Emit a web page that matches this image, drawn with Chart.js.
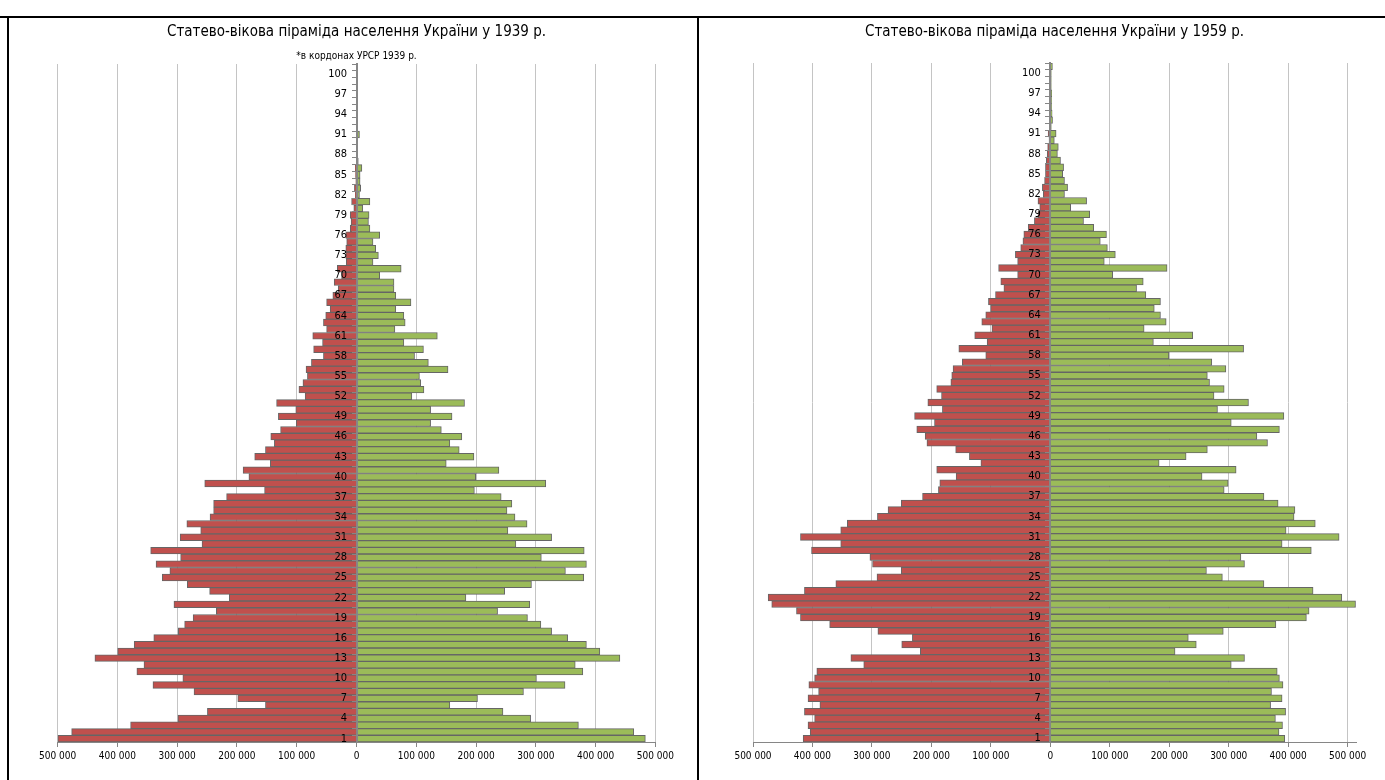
<!DOCTYPE html>
<html>
<head>
<meta charset="utf-8">
<script src="https://cdn.jsdelivr.net/npm/chart.js@4.4.0/dist/chart.umd.min.js"></script>
<style>
  body { margin: 0; background: #fff; width: 1385px; height: 780px; overflow: hidden; position: relative; }
  .line { position: absolute; background: #000; }
  canvas { position: absolute; top: 18px; }
</style>
</head>
<body>
<div class="line" style="left:0;top:16px;width:1385px;height:2px"></div>
<div class="line" style="left:7px;top:16px;width:2px;height:764px"></div>
<div class="line" style="left:697px;top:16px;width:2px;height:764px"></div>
<canvas id="chart1939" width="688" height="762" style="left:9px"></canvas>
<canvas id="chart1959" width="686" height="762" style="left:699px"></canvas>
<script>
// ages 1..101, bottom to top
const ages = Array.from({ length: 101 }, (_, i) => String(i + 1));
const xTicks = [-500000, -400000, -300000, -200000, -100000, 0, 100000, 200000, 300000, 400000, 500000];

const men1939 = [
  499600, 476500, 377900, 298700, 249400, 152300, 198600, 271800, 340500, 290500,
  367400, 355500, 437600, 399500, 371900, 339100, 298000, 287500, 273300, 234500,
  305400, 212800, 245700, 283000, 324900, 312200, 335300, 294200, 344300, 258400,
  295000, 260600, 283800, 245000, 239000, 239000, 217300, 153800, 253900, 180000,
  189700, 144100, 170300, 152300, 137400, 143400, 127000, 100800, 130700, 101600,
  133700, 85900, 96300, 89600, 82100, 84400, 75400, 55300, 71700, 56800,
  73200, 50000, 55300, 51500, 44100, 50000, 39600, 30600, 37300, 25000,
  32100, 17200, 17900, 17900, 16400, 17900, 10500, 9000, 10500, 4500,
  8200, 2000, 3500, 1000, 1500, 2000, 800, 700, 600, 400,
  800, 300, 200, 200, 100, 100, 100, 100, 100, 100, 100
];
const women1939 = [
  483200, 463800, 371200, 291300, 245000, 156100, 202400, 279300, 348800, 301000,
  378600, 365900, 440600, 407000, 384600, 353200, 326400, 308400, 286000, 236000,
  289800, 183000, 247900, 292700, 380100, 349500, 384600, 309200, 380900, 266600,
  326400, 253200, 285300, 265100, 251700, 259900, 242000, 197200, 316600, 199400,
  238200, 150100, 196400, 171800, 156100, 176200, 141900, 124000, 159800, 124000,
  180700, 92600, 112800, 107500, 105300, 153100, 120200, 97100, 112000, 79200,
  135200, 64200, 81400, 79200, 65700, 91100, 65700, 62700, 62700, 38800,
  74700, 27600, 36600, 32100, 27600, 38800, 22400, 20000, 21000, 10500,
  22400, 5000, 7000, 6000, 6000, 9000, 3000, 2000, 2000, 1000,
  5000, 1000, 800, 1200, 700, 600, 900, 500, 400, 600, 300
];
const men1959 = [
  415700, 403800, 407500, 396400, 413500, 387500, 407500, 389700, 406100, 396400,
  392700, 313800, 335400, 218600, 249900, 232000, 290000, 371100, 420200, 426900,
  468500, 474500, 413500, 360700, 291500, 250600, 299000, 303400, 401600, 352500,
  420200, 352500, 341400, 290800, 272900, 250600, 214900, 188200, 185900, 158400,
  191100, 116800, 136100, 159200, 207500, 210500, 224600, 194800, 228300, 181500,
  206000, 183000, 191100, 167300, 165800, 163600, 148000, 108600, 153900, 106300,
  127200, 98200, 115300, 108600, 100400, 104100, 92200, 78100, 83300, 55000,
  87000, 55000, 58800, 49800, 46100, 44600, 37200, 26800, 20800, 17800,
  20800, 11900, 13400, 9700, 8200, 8200, 6700, 5200, 4500, 2200,
  3700, 1000, 800, 700, 500, 400, 300, 300, 200, 200, 100
];
const women1959 = [
  394200, 384500, 390400, 378500, 395600, 370400, 389700, 371900, 391200, 385200,
  381500, 304200, 326500, 209700, 245400, 232000, 290800, 379300, 430600, 435100,
  513200, 490100, 441800, 359200, 289300, 262500, 326500, 320500, 438800, 389700,
  485600, 396400, 445500, 409800, 411300, 383000, 359200, 292300, 299000, 255100,
  312400, 182900, 228300, 264000, 365200, 347300, 385200, 304200, 392700, 281100,
  333200, 275200, 292300, 267700, 264000, 295200, 271500, 199300, 325000, 173300,
  239500, 157700, 194800, 185200, 174800, 185200, 160600, 145000, 156200, 104900,
  196300, 90700, 109300, 95900, 84000, 94400, 72900, 55800, 66200, 34200,
  61000, 23800, 29000, 23800, 20800, 22300, 17100, 11900, 13400, 6700,
  9700, 1500, 3700, 3000, 2000, 2000, 2200, 1500, 1500, 1500, 3500
];

const FONT = "'DejaVu Sans Condensed', 'Liberation Sans Narrow', sans-serif";
const AXIS = "#868686";

function fmt(v) {
  return String(Math.abs(v)).replace(/\B(?=(\d{3})+(?!\d))/g, " ");
}

function pyramid(id, title, subtitle, men, women, xMax, pad) {
  new Chart(document.getElementById(id), {
    type: "bar",
    data: {
      labels: ages,
      datasets: [
        { label: "чоловіки", data: men.map((v) => -v), backgroundColor: "#c0504d", borderColor: "#666666", borderWidth: 1 },
        { label: "жінки", data: women, backgroundColor: "#9bbb59", borderColor: "#666666", borderWidth: 1 },
      ],
    },
    options: {
      indexAxis: "y",
      responsive: false,
      animation: false,
      layout: { padding: pad },
      barPercentage: 1,
      categoryPercentage: 1,
      plugins: {
        legend: { display: false },
        tooltip: { enabled: false },
        title: {
          display: true,
          text: title,
          color: "#000",
          font: { family: FONT, size: 15, weight: "normal" },
          padding: { top: 5, bottom: subtitle ? 9 : 22 },
        },
        subtitle: {
          display: !!subtitle,
          text: subtitle,
          color: "#000",
          font: { family: FONT, size: 10 },
          padding: { top: 0, bottom: 2 },
        },
      },
      scales: {
        x: {
          stacked: true,
          min: -500000,
          max: xMax,
          border: { color: AXIS, width: 1 },
          grid: { color: "#c4c4c4", tickColor: AXIS, tickLength: 5 },
          afterBuildTicks: (scale) => {
            scale.ticks = xTicks.map((v) => ({ value: v }));
          },
          ticks: {
            color: "#000",
            padding: 3,
            maxRotation: 0,
            font: { family: FONT, size: 10 },
            callback: (v) => fmt(v),
          },
        },
        y: {
          stacked: true,
          reverse: true,
          position: { x: 0 },
          border: { color: AXIS, width: 2, z: 1 },
          grid: { drawOnChartArea: false, tickColor: AXIS, tickLength: 4, z: 1 },
          ticks: {
            autoSkip: false,
            color: "#000",
            z: 1,
            font: { family: FONT, size: 11 },
            callback: function (v, i) {
              return i % 3 === 0 ? this.getLabelForValue(v) + "   " : "";
            },
          },
        },
      },
    },
  });
}

pyramid("chart1939", "Статево-вікова піраміда населення України у 1939 р.", "*в кордонах УРСР 1939 р.",
  men1939, women1939, 500000, { left: 48.6, right: 41.6, top: 0, bottom: 15 });
pyramid("chart1959", "Статево-вікова піраміда населення України у 1959 р.", "",
  men1959, women1959, 514000, { left: 54, right: 29, top: 0, bottom: 15 });
</script>
</body>
</html>
